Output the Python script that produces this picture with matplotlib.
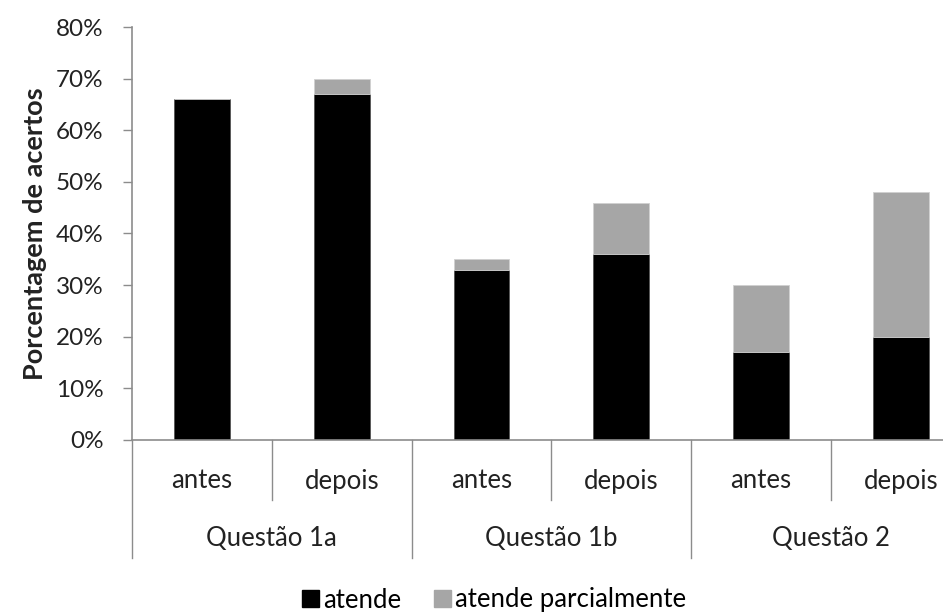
import numpy as np
import matplotlib.pyplot as plt
from matplotlib.patches import Patch

plt.rcParams['font.family'] = ['Lato', 'DejaVu Sans']

grupos = ['Questão 1a', 'Questão 1b', 'Questão 2']
momentos = ['antes', 'depois']
atende = [66, 67, 33, 36, 17, 20]
parcial = [0, 3, 2, 10, 13, 28]
yticks = [0, 10, 20, 30, 40, 50, 60, 70, 80]

cor_atende = '#000000'
cor_parcial = '#a6a6a6'
cor_eixo = '#8c8c8c'
cor_txt = '#222222'
fs = 18.5

W, H = 943, 612
fig = plt.figure(figsize=(W / 100, H / 100), dpi=100)
left, bottom, top = 132, 440, 27
cat_w = 139.8
ax = fig.add_axes([left / W, 1 - bottom / H, 6 * cat_w / W, (bottom - top) / H])

x = np.arange(len(atende))
ax.bar(x, atende, width=0.4, color=cor_atende, edgecolor='#555555', linewidth=0.6)
ax.bar(x, parcial, width=0.4, bottom=atende, color=cor_parcial,
       edgecolor='#d0d0d0', linewidth=0.6)

ax.set_xlim(-0.5, 5.5)
ax.set_ylim(0, 80)
ax.set_yticks(yticks)
ax.set_yticklabels([f'{v}%' for v in yticks], fontsize=17.5, color=cor_txt)
ax.tick_params(axis='y', length=6.5, color=cor_eixo, width=1, pad=14)
ax.set_xticks([])

for s in ['top', 'right']:
    ax.spines[s].set_visible(False)
for s in ['left', 'bottom']:
    ax.spines[s].set_color(cor_eixo)
    ax.spines[s].set_linewidth(1.2)

ax.set_ylabel('Porcentagem de acertos', fontsize=19.5, fontweight='bold',
              color=cor_txt, labelpad=6)

tr = ax.get_xaxis_transform()
ah = bottom - top
y_in = -(500 - bottom) / ah
y_out = -(558 - bottom) / ah
for b in np.arange(-0.5, 6.0, 1.0):
    y_end = y_out if int(b + 0.5) % 2 == 0 else y_in
    ax.plot([b, b], [0, y_end], transform=tr, color=cor_eixo, lw=1, clip_on=False)

for i in x:
    ax.text(i, -(481 - bottom) / ah, momentos[i % 2], transform=tr,
            ha='center', va='center', fontsize=fs, color=cor_txt)
for g, nome in enumerate(grupos):
    ax.text(2 * g + 0.5, -(539 - bottom) / ah, nome, transform=tr,
            ha='center', va='center', fontsize=fs, color=cor_txt)

handles = [Patch(color=cor_atende, label='atende'),
           Patch(color=cor_parcial, label='atende parcialmente')]
fig.legend(handles=handles, loc='center', bbox_to_anchor=(494 / W, 1 - 600 / H),
           ncol=2, frameon=False, fontsize=fs, handlelength=0.65, handleheight=0.65,
           handletextpad=0.15, columnspacing=1.3, borderpad=0)

fig.savefig('out.png', dpi=100)
